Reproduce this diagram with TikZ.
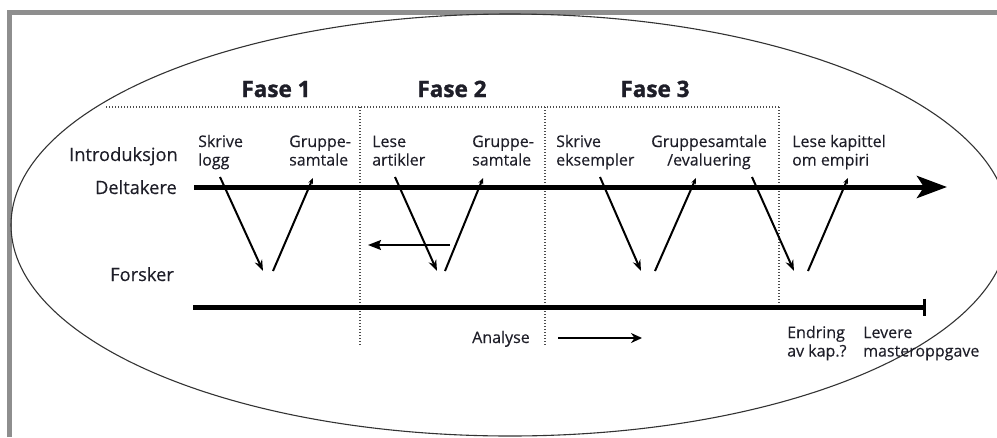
\documentclass[tikz,border=0pt]{standalone}
\usepackage{fontspec}
\setmainfont{Open Sans}
\newfontfamily\lblfont{Open Sans}[FakeBold=0.35]
\newfontfamily\ttlfont{Open Sans}[BoldFeatures={FakeBold=1.3}]
\usetikzlibrary{arrows.meta}
\definecolor{ink}{HTML}{1E1E28}
\definecolor{framegray}{HTML}{8E8E8E}
\tikzset{
  lbl/.style={inner sep=0pt, text=ink, font=\lblfont\fontsize{16}{18.5}\selectfont, align=left, anchor=base west},
  biglbl/.style={inner sep=0pt, text=ink, font=\lblfont\fontsize{18.3}{22}\selectfont},
  fasetitle/.style={inner sep=0pt, text=ink, font=\ttlfont\bfseries\fontsize{22.5}{26}\selectfont, anchor=base},
  dotline/.style={draw=black!70, line width=1.2pt, dash pattern=on 1.2pt off 1.8pt},
  timeline/.style={draw=black, line width=5pt},
  downarr/.style={draw=black, line width=2pt, -{Stealth[length=11pt,width=8pt]}},
  uparr/.style={draw=black, line width=2pt, -{Stealth[length=6pt,width=5pt]}},
}
\begin{document}
\begin{tikzpicture}[x=1pt,y=-1pt]
\useasboundingbox (0,0) rectangle (997,437);
\begin{scope}
\clip (0,0) rectangle (997,437);
% frame
\draw[framegray, line width=5pt] (9.5,437) -- (9.5,12.5) -- (997,12.5);
% ellipse
\draw[black!80, line width=1.1pt] (510,225) ellipse [x radius=499, y radius=211];
\end{scope}

% dotted phase grid
\coordinate (h0) at (106,107);
\coordinate (h1) at (779,107);
\coordinate (v1t) at (360,107); \coordinate (v1b) at (360,345);
\coordinate (v2t) at (545,107); \coordinate (v2b) at (545,345);
\coordinate (v3t) at (779,107); \coordinate (v3b) at (779,305);
\draw[dotline] (h0) -- (h1);
\draw[dotline] (v1t) -- (v1b);
\draw[dotline] (v2t) -- (v2b);
\draw[dotline] (v3t) -- (v3b);

% titles
\node[fasetitle] (f1) at (276,97) {Fase 1};
\node[fasetitle] (f2) at (452,97) {Fase 2};
\node[fasetitle] (f3) at (655,97) {Fase 3};

% row labels
\node[biglbl, anchor=base east] (intro) at (178,161) {Introduksjon};
\node[biglbl, anchor=base east] (delt) at (177,194) {Deltakere};
\node[biglbl, anchor=base west] (forsk) at (110,281) {Forsker};

% timelines
\coordinate (d0) at (194,187);
\coordinate (d1) at (947,187);
\coordinate (r0) at (193,307);
\coordinate (r1) at (926,307);
\draw[timeline, -{Stealth[length=30pt,width=22pt,inset=7pt]}] (d0) -- (d1);
\draw[timeline, -{Bar[width=17pt,line width=3pt]}] (r0) -- (r1);

% activity labels (anchor at baseline of the last line)
\node[lbl] (a1) at (198,165.5) {Skrive\\logg};
\node[lbl] (a2) at (289,165.5) {Gruppe-\\samtale};
\node[lbl] (a3) at (372,165.5) {Lese\\artikler};
\node[lbl] (a4) at (472,165.5) {Gruppe-\\samtale};
\node[lbl] (a5) at (556,165.5) {Skrive\\eksempler};
\node[lbl, align=center, anchor=base] (a6) at (709,165.5) {Gruppesamtale\\/evaluering};
\node[lbl] (a7) at (792,165.5) {Lese kapittel\\om empiri};

% V arrows
\coordinate (p1a) at (220,177); \coordinate (p1b) at (263,271);
\coordinate (p1c) at (273,271); \coordinate (p1d) at (313,178);
\coordinate (p2a) at (395,177); \coordinate (p2b) at (437,271);
\coordinate (p2c) at (445,271); \coordinate (p2d) at (483,178);
\coordinate (p3a) at (600,177); \coordinate (p3b) at (641,271);
\coordinate (p3c) at (655,271); \coordinate (p3d) at (696,178);
\coordinate (p4a) at (752,177); \coordinate (p4b) at (794,271);
\coordinate (p4c) at (808,271); \coordinate (p4d) at (848,178);
\draw[downarr] (p1a) -- (p1b);
\draw[uparr] (p1c) -- (p1d);
\draw[downarr] (p2a) -- (p2b);
\draw[uparr] (p2c) -- (p2d);
\draw[downarr] (p3a) -- (p3b);
\draw[uparr] (p3c) -- (p3d);
\draw[downarr] (p4a) -- (p4b);
\draw[uparr] (p4c) -- (p4d);

% back arrow in phase 2
\coordinate (b0) at (450,245);
\coordinate (b1) at (368,245);
\draw[black, line width=1.6pt, -{Stealth[length=13pt,width=10pt,inset=2pt]}] (b0) -- (b1);

% bottom labels
\node[lbl] (an) at (472,343) {Analyse};
\coordinate (an0) at (558,338);
\coordinate (an1) at (642,338);
\draw[black, line width=2.4pt, -{Stealth[length=11pt,width=10pt]}] (an0) -- (an1);
\node[lbl] (end) at (787,356.5) {Endring\\av kap.?};
\node[lbl] (lev) at (863,356.5) {Levere\\masteroppgave};
\end{tikzpicture}
\end{document}
